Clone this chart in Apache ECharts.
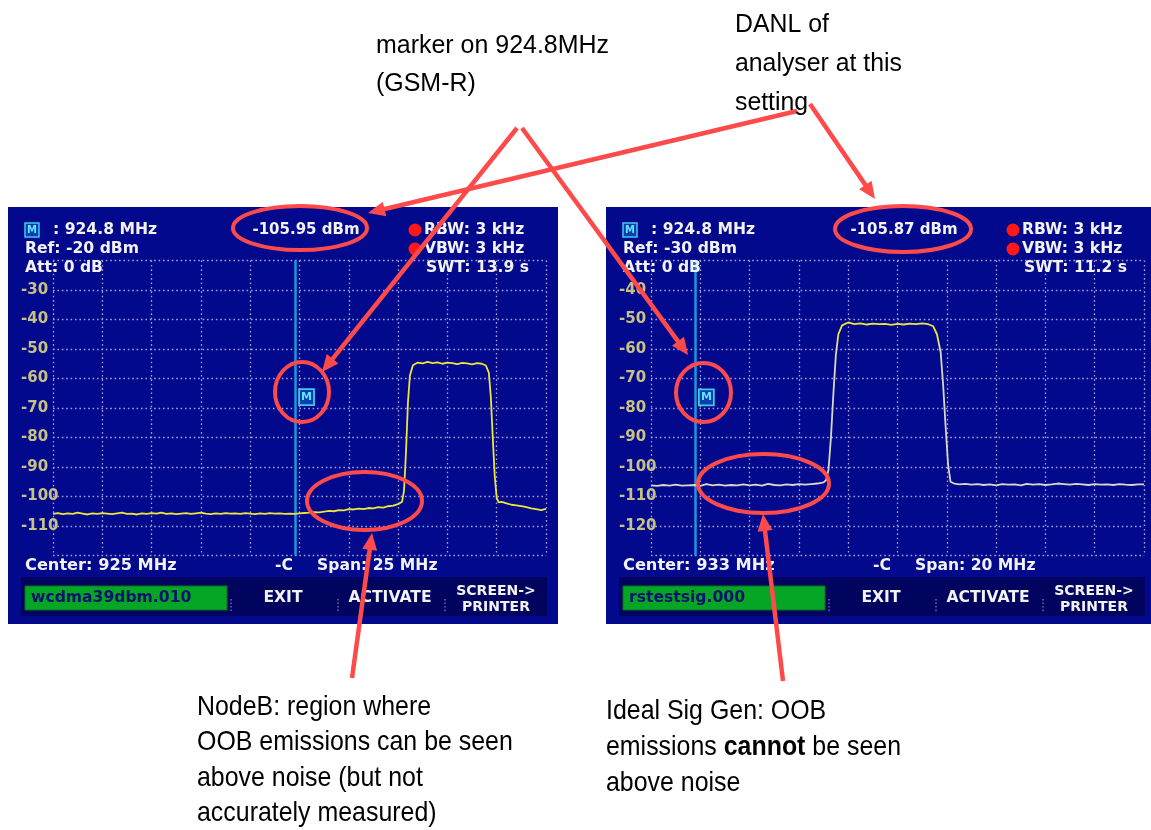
<!DOCTYPE html>
<html>
<head>
<meta charset="utf-8">
<title>OOB emissions: NodeB vs signal generator</title>
<script src="https://cdn.jsdelivr.net/npm/echarts@6/dist/echarts.min.js"></script>
<style>
  html, body { margin: 0; padding: 0; background: #ffffff; }
  #chart { width: 1151px; height: 830px; }
</style>
</head>
<body>
<div id="chart"></div>
<script>
// ---- Analyser settings for the two captures ----
const centerMHz = [925, 933];
const spanMHz = [25, 20];
const refLevelDbm = [-20, -30];
const markerMHz = 924.8;
const markerReadout = ['-105.95 dBm', '-105.87 dBm'];
const markerSymbolLevel = [-66.3, -76.4];
const sweepTime = ['13.9 s', '11.2 s'];
const traceFiles = ['wcdma39dbm.010', 'rstestsig.000'];

// ---- Left capture: NodeB (WCDMA carrier) ----
const freqNodeB = [
  912.5, 912.75, 913, 913.25, 913.5, 913.75, 914, 914.25, 914.5, 914.75,
  915, 915.25, 915.5, 915.75, 916, 916.25, 916.5, 916.75, 917, 917.25,
  917.5, 917.75, 918, 918.25, 918.5, 918.75, 919, 919.25, 919.5, 919.75,
  920, 920.25, 920.5, 920.75, 921, 921.25, 921.5, 921.75, 922, 922.25,
  922.5, 922.75, 923, 923.25, 923.5, 923.75, 924, 924.25, 924.5, 924.75,
  925, 925.25, 925.5, 925.75, 926, 926.25, 926.5, 926.75, 927, 927.25,
  927.5, 927.75, 928, 928.25, 928.5, 928.75, 929, 929.25, 929.5, 929.75,
  930, 930.2, 930.3, 930.4, 930.5, 930.6, 930.75, 931, 931.25, 931.5,
  931.75, 932, 932.25, 932.5, 932.75, 933, 933.25, 933.5, 933.75, 934,
  934.25, 934.45, 934.6, 934.7, 934.8, 934.9, 935, 935.1, 935.25, 935.5,
  935.75, 936, 936.25, 936.5, 936.75, 937, 937.25, 937.5
];
const levelNodeB = [
  -105.9, -105.6, -106.0, -105.7, -105.9, -105.5, -105.8, -106.1, -105.7, -105.9,
  -105.6, -105.8, -106.0, -105.7, -105.5, -105.9, -105.8, -106.1, -105.7, -105.9,
  -105.6, -105.8, -105.5, -105.9, -105.7, -106.0, -105.8, -105.6, -105.9, -105.7,
  -105.5, -105.8, -106.0, -105.7, -105.9, -105.6, -105.8, -105.7, -105.9, -105.6,
  -105.8, -106.0, -105.7, -105.9, -105.6, -105.8, -105.7, -105.9, -105.8, -105.9,
  -105.7, -105.6, -105.5, -105.3, -105.4, -105.1, -104.9, -105.0, -104.6, -104.7,
  -104.3, -104.4, -104.1, -104.3, -103.9, -104.0, -103.6, -103.8, -103.3, -103.1,
  -102.6, -101.8, -98, -85, -68, -59, -55.5, -54.6, -54.9, -54.4,
  -54.8, -54.5, -55.0, -54.6, -54.8, -55.1, -54.7, -54.9, -55.2, -54.8,
  -55.0, -55.6, -58, -66, -80, -93, -100.5, -102.0, -101.8, -102.3,
  -102.8, -103.0, -103.3, -103.6, -104.0, -104.3, -104.6, -104.2
];

// ---- Right capture: reference signal generator ----
const freqSigGen = [
  923, 923.25, 923.5, 923.75, 924, 924.25, 924.5, 924.75, 925, 925.25,
  925.5, 925.75, 926, 926.25, 926.5, 926.75, 927, 927.25, 927.5, 927.75,
  928, 928.25, 928.5, 928.75, 929, 929.25, 929.5, 929.75, 930, 930.1,
  930.2, 930.3, 930.4, 930.5, 930.6, 930.75, 931, 931.25, 931.5, 931.75,
  932, 932.25, 932.5, 932.75, 933, 933.25, 933.5, 933.75, 934, 934.25,
  934.45, 934.6, 934.75, 934.85, 934.95, 935.05, 935.15, 935.3, 935.5, 935.75,
  936, 936.25, 936.5, 936.75, 937, 937.25, 937.5, 937.75, 938, 938.25,
  938.5, 938.75, 939, 939.25, 939.5, 939.75, 940, 940.25, 940.5, 940.75,
  941, 941.25, 941.5, 941.75, 942, 942.25, 942.5, 942.75, 943
];
const levelSigGen = [
  -106.2, -106.4, -106.1, -106.3, -106.0, -106.3, -106.2, -106.1, -106.4, -105.8,
  -106.2, -106.0, -106.3, -106.1, -106.2, -105.9, -106.2, -106.0, -106.3, -105.7,
  -106.1, -106.2, -105.9, -106.1, -105.8, -106.0, -105.8, -105.6, -105.2, -104.5,
  -101, -90, -75, -62, -55, -52, -51.0, -51.6, -51.3, -51.7,
  -51.4, -51.6, -51.5, -51.8, -51.5, -51.7, -51.4, -51.6, -51.3, -51.6,
  -52.3, -55, -61, -72, -86, -99, -105.0, -105.6, -105.9, -105.7,
  -106.0, -105.8, -106.1, -105.9, -106.2, -105.8, -106.0, -105.9, -106.2, -105.7,
  -106.0, -105.8, -106.1, -105.9, -105.6, -105.8, -106.0, -105.7, -105.9, -106.1,
  -105.8, -106.0, -105.9, -106.1, -105.8, -106.0, -106.1, -105.9, -105.9
];

// ---- Styling / layout ----
const SCREEN_BG = '#02098c';
const BAR_BG = '#00045e';
const GRID_DOT = '#a2a2da';
const TRACE_YELLOW = '#ece53a';
const TRACE_PALE = '#d8d8c4';
const SCREEN_FONT = '"DejaVu Sans", Verdana, sans-serif';
const NOTE_FONT = '"Liberation Sans", Arial, sans-serif';
const NOTE_RED = '#fe4a4a';
const panels = [{ x: 8, y: 207, w: 550, h: 417 }, { x: 606, y: 207, w: 550, h: 417 }];
const plotInset = { left: 45, top: 53.5, width: 493, height: 295 };
// level (dBm) below which the generator trace is drawn in the paler tone
const paleBelowDbm = -58;

const traces = [
  { freq: freqNodeB, level: levelNodeB },
  { freq: freqSigGen, level: levelSigGen }
];

function screenText(x, y, s, o) {
  o = o || {};
  return {
    type: 'text', x: x, y: y, z: 50, silent: true,
    style: {
      text: s, x: 0, y: 0,
      fontFamily: SCREEN_FONT, fontWeight: 'bold', fontSize: o.size || 15.6,
      fill: o.fill || '#f2f2f2',
      textAlign: o.align || 'left', align: o.align || 'left',
      textVerticalAlign: 'middle', verticalAlign: 'middle'
    }
  };
}

// Instrument chrome around each plot: readouts, softkey bar, file name
function screenElements(i) {
  const p = panels[i];
  const X = (v) => p.x + v, Y = (v) => p.y + v;
  const els = [];
  els.push({ type: 'rect', z: -10, silent: true, shape: { x: p.x, y: p.y, width: p.w, height: p.h }, style: { fill: SCREEN_BG } });
  // marker badge
  els.push({ type: 'rect', z: 50, silent: true, shape: { x: X(17), y: Y(16), width: 14, height: 14 }, style: { fill: '#0a3fae', stroke: '#44c8f0', lineWidth: 1.5 } });
  els.push(screenText(X(24), Y(23.5), 'M', { size: 10, fill: '#66e2ff', align: 'center' }));
  els.push(screenText(X(45), Y(23), ': ' + markerMHz + ' MHz'));
  els.push(screenText(X(17), Y(42), 'Ref: ' + refLevelDbm[i] + ' dBm'));
  els.push(screenText(X(17), Y(61), 'Att: 0 dB'));
  els.push(screenText(X(298), Y(23), markerReadout[i], { align: 'center', size: 15 }));
  // coupled-setting indicators
  els.push({ type: 'circle', z: 50, silent: true, shape: { cx: X(407), cy: Y(23), r: 6.5 }, style: { fill: '#ff1818' } });
  els.push({ type: 'circle', z: 50, silent: true, shape: { cx: X(407), cy: Y(42), r: 6.5 }, style: { fill: '#ff1818' } });
  els.push(screenText(X(416), Y(23), 'RBW: 3 kHz'));
  els.push(screenText(X(416), Y(42), 'VBW: 3 kHz'));
  els.push(screenText(X(418), Y(61), 'SWT: ' + sweepTime[i]));
  // frequency footer
  els.push(screenText(X(17), Y(359), 'Center: ' + centerMHz[i] + ' MHz', { size: 16.2 }));
  els.push(screenText(X(267), Y(359), '-C'));
  els.push(screenText(X(309), Y(359), 'Span: ' + spanMHz[i] + ' MHz'));
  // softkey bar
  els.push({ type: 'rect', z: 40, silent: true, shape: { x: X(13), y: Y(370), width: 526, height: 39 }, style: { fill: BAR_BG } });
  els.push({ type: 'rect', z: 45, silent: true, shape: { x: X(17), y: Y(379), width: 202, height: 24 }, style: { fill: '#05a526', stroke: '#06701a', lineWidth: 1 } });
  els.push(screenText(X(23), Y(391), traceFiles[i], { fill: '#06136e' }));
  els.push(screenText(X(275), Y(391), 'EXIT', { align: 'center' }));
  els.push(screenText(X(382), Y(391), 'ACTIVATE', { align: 'center' }));
  els.push(screenText(X(488), Y(384), 'SCREEN->', { align: 'center', size: 14 }));
  els.push(screenText(X(488), Y(400), 'PRINTER', { align: 'center', size: 14 }));
  [223, 330, 437].forEach((sx) => {
    els.push({ type: 'line', z: 46, silent: true, shape: { x1: X(sx), y1: Y(392), x2: X(sx), y2: Y(404) }, style: { stroke: '#6a6ab0', lineWidth: 1.5, lineDash: [1.5, 2] } });
  });
  return els;
}

// ---- Red call-outs ----
const calloutEllipses = [
  { cx: 300, cy: 228, rx: 67, ry: 22 },
  { cx: 903, cy: 229, rx: 68, ry: 23 },
  { cx: 302, cy: 392, rx: 27, ry: 30 },
  { cx: 703.5, cy: 392.5, rx: 27.5, ry: 29.5 },
  { cx: 364.5, cy: 501, rx: 57.5, ry: 29 },
  { cx: 763.5, cy: 483.5, rx: 65.5, ry: 29.5 }
];
const calloutArrows = [
  [517, 128, 322, 372],
  [522, 128, 688, 355],
  [797, 111, 368, 213],
  [810, 104, 875, 199],
  [352, 678, 372, 533],
  [783, 681, 763, 514]
];
const notes = [
  { x: 376, size: 26, sx: 0.96, lines: [['marker on 924.8MHz', 46], ['(GSM-R)', 84]] },
  { x: 735, size: 26, sx: 0.955, lines: [['DANL of', 25], ['analyser at this', 64], ['setting', 103]] },
  { x: 197, size: 28, sx: 0.89, lines: [['NodeB: region where', 707], ['OOB emissions can be seen', 742], ['above noise (but not', 778], ['accurately measured)', 813]] },
  { x: 606, size: 28, sx: 0.89, lines: [['Ideal Sig Gen: OOB', 711], ['emissions {b|cannot} be seen', 747], ['above noise', 783]] }
];

function arrowElements(a) {
  const [x1, y1, x2, y2] = a;
  const ang = Math.atan2(y2 - y1, x2 - x1);
  const L = 17, W = 7.5;
  const bx = x2 - L * Math.cos(ang), by = y2 - L * Math.sin(ang);
  const nx = Math.sin(ang) * W, ny = -Math.cos(ang) * W;
  return [
    { type: 'line', z: 200, silent: true, shape: { x1: x1, y1: y1, x2: bx + Math.cos(ang) * 2, y2: by + Math.sin(ang) * 2 }, style: { stroke: NOTE_RED, lineWidth: 4.5 } },
    { type: 'polygon', z: 200, silent: true, shape: { points: [[x2, y2], [bx + nx, by + ny], [bx - nx, by - ny]] }, style: { fill: NOTE_RED } }
  ];
}

function noteElements(n) {
  return n.lines.map(([s, y]) => ({
    type: 'text', x: n.x, y: y, scaleX: n.sx, z: 200, silent: true,
    style: {
      text: s, x: 0, y: 0, fill: '#000000',
      fontFamily: NOTE_FONT, fontSize: n.size, fontWeight: 'normal',
      textAlign: 'left', align: 'left', textVerticalAlign: 'middle', verticalAlign: 'middle',
      rich: { b: { fontFamily: NOTE_FONT, fontSize: n.size, fontWeight: 'bold', fill: '#000000', color: '#000000' } }
    }
  }));
}

const graphics = [].concat(
  screenElements(0), screenElements(1),
  calloutEllipses.map((e) => ({ type: 'ellipse', z: 200, silent: true, shape: e, style: { fill: 'transparent', stroke: NOTE_RED, lineWidth: 4 } })),
  ...calloutArrows.map(arrowElements),
  ...notes.map(noteElements)
);

const grids = panels.map((p) => ({
  left: p.x + plotInset.left, top: p.y + plotInset.top,
  width: plotInset.width, height: plotInset.height
}));

const xAxes = [0, 1].map((i) => ({
  gridIndex: i, type: 'value',
  min: -spanMHz[i] / 2, max: spanMHz[i] / 2, interval: spanMHz[i] / 10,
  axisLine: { show: false }, axisTick: { show: false }, axisLabel: { show: false },
  splitLine: { show: true, lineStyle: { color: GRID_DOT, width: 1.3, type: [1.6, 2.8] } }
}));

const yAxes = [0, 1].map((i) => ({
  gridIndex: i, type: 'value',
  min: refLevelDbm[i] - 100, max: refLevelDbm[i], interval: 10,
  axisLine: { show: false }, axisTick: { show: false },
  axisLabel: {
    show: true, align: 'left', margin: 32, color: '#c8c184',
    fontFamily: SCREEN_FONT, fontWeight: 'bold', fontSize: 15,
    showMinLabel: false, showMaxLabel: false
  },
  splitLine: { show: true, lineStyle: { color: GRID_DOT, width: 1.3, type: [1.6, 2.8] } }
}));

// Generator trace: yellow on the carrier, paler on the noise floor (split on level)
function generatorTraceColor() {
  const g = grids[1];
  const frac = (refLevelDbm[1] - paleBelowDbm) / 100;
  return {
    type: 'linear', global: true, x: 0, y: g.top, x2: 0, y2: g.top + g.height,
    colorStops: [
      { offset: 0, color: TRACE_YELLOW }, { offset: frac, color: TRACE_YELLOW },
      { offset: frac, color: TRACE_PALE }, { offset: 1, color: TRACE_PALE }
    ]
  };
}

const series = traces.map((t, i) => ({
  type: 'line', xAxisIndex: i, yAxisIndex: i,
  data: t.freq.map((f, k) => [f - centerMHz[i], t.level[k]]),
  symbol: 'none', showSymbol: false, z: 5,
  lineStyle: { width: 1.8, color: i === 1 ? generatorTraceColor() : TRACE_YELLOW },
  itemStyle: { color: TRACE_YELLOW },
  markLine: {
    silent: true, symbol: ['none', 'none'], label: { show: false },
    lineStyle: { color: '#1c98d8', width: 2.5, type: 'solid' },
    data: [{ xAxis: markerMHz - centerMHz[i] }]
  },
  markPoint: {
    silent: true,
    data: [{
      coord: [markerMHz - centerMHz[i], markerSymbolLevel[i]],
      symbol: 'rect', symbolSize: [15, 16], symbolOffset: [11, 0],
      itemStyle: { color: '#0a3fae', borderColor: '#44c8f0', borderWidth: 1.8 },
      label: { show: true, formatter: 'M', position: 'inside', color: '#66e2ff', fontFamily: SCREEN_FONT, fontWeight: 'bold', fontSize: 11 }
    }]
  }
}));

const chart = echarts.init(document.getElementById('chart'), null, { renderer: 'canvas' });
chart.setOption({
  animation: false,
  backgroundColor: '#ffffff',
  grid: grids,
  xAxis: xAxes,
  yAxis: yAxes,
  series: series,
  graphic: { elements: graphics }
});
</script>
</body>
</html>
